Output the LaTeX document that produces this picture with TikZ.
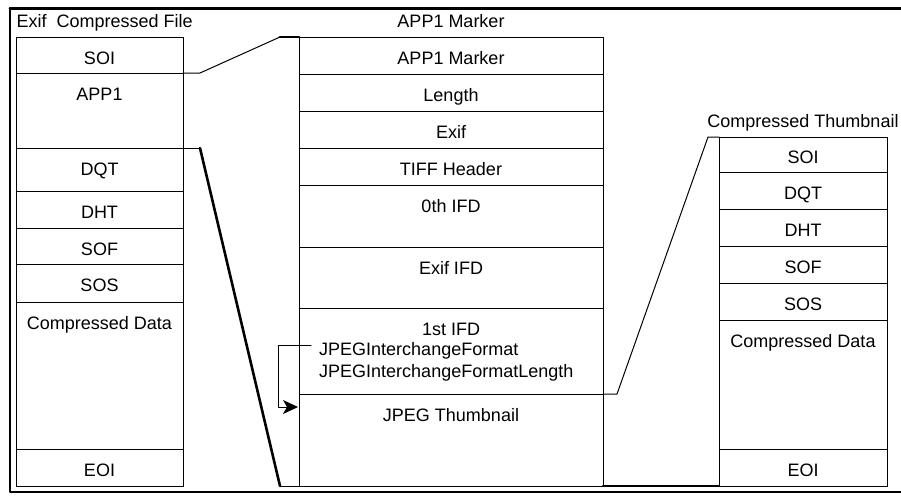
\documentclass[tikz,border=0pt]{standalone}
\usepackage{fontspec}
\setmainfont{Liberation Sans}
\usetikzlibrary{positioning,arrows.meta}
\begin{document}
\begin{tikzpicture}[x=1pt, y=-1pt, line cap=round, line join=round,
    font=\fontsize{18pt}{21pt}\selectfont,
    cell/.style={draw, line width=1pt, outer sep=0pt, inner sep=0pt,
      anchor=north, text height=18pt, text depth=0pt, minimum height=37pt},
    lcol/.style={cell, minimum width=167pt},
    mcol/.style={cell, minimum width=304pt},
    rcol/.style={cell, minimum width=168pt},
    tag/.style={inner sep=0pt, anchor=base west},
    link/.style={line width=1pt},
    heavy/.style={line width=2.6pt}]
  \useasboundingbox (0,0) rectangle (901,496);
  \draw[line width=3pt] (10,8)--(901,8);
  \draw[line width=2pt] (10,8)--(10,492)--(901,492);

  \node[anchor=base west] (ltitle) at (13,27) {Exif~ Compressed File};
  \node[lcol, minimum height=36pt] (lsoi) at (99.5,37) {SOI};
  \node[lcol, below=0pt of lsoi, minimum height=75pt, text depth=38pt] (lapp) {APP1};
  \node[lcol, below=0pt of lapp, minimum height=43pt, text depth=6pt] (ldqt) {DQT};
  \node[lcol, below=0pt of ldqt] (ldht) {DHT};
  \node[lcol, below=0pt of ldht, minimum height=36pt] (lsof) {SOF};
  \node[lcol, below=0pt of lsof, minimum height=38pt, text depth=1pt] (lsos) {SOS};
  \node[lcol, below=0pt of lsos, minimum height=147pt, text depth=110pt] (ldata) {Compressed Data};
  \node[lcol, below=0pt of ldata] (leoi) {EOI};

  \node[mcol] (mmark) at (451,37) {APP1 Marker};
  \node[anchor=base] (mtitle) at ([yshift=10pt]mmark.north) {APP1 Marker};
  \node[mcol, below=0pt of mmark] (mlen) {Length};
  \node[mcol, below=0pt of mlen] (mexif) {Exif};
  \node[mcol, below=0pt of mexif] (mtiff) {TIFF Header};
  \node[mcol, below=0pt of mtiff, minimum height=62pt, text depth=25pt] (mzero) {0th IFD};
  \node[mcol, below=0pt of mzero, minimum height=61pt, text depth=24pt] (mexififd) {Exif IFD};
  \node[mcol, below=0pt of mexififd, minimum height=86pt, text depth=49pt] (mfirst) {1st IFD};
  \node[mcol, below=0pt of mfirst, minimum height=92pt, text depth=55pt] (thumb) {JPEG Thumbnail};
  \node[tag] (jif) at (319,355) {JPEGInterchangeFormat};
  \node[tag] (jifl) at (319,377) {JPEGInterchangeFormatLength};

  \node[rcol, minimum height=35pt] (rsoi) at (803,137) {SOI};
  \node[anchor=base] (rtitle) at ([yshift=10pt]rsoi.north) {Compressed Thumbnail};
  \node[rcol, below=0pt of rsoi] (rdqt) {DQT};
  \node[rcol, below=0pt of rdqt] (rdht) {DHT};
  \node[rcol, below=0pt of rdht] (rsof) {SOF};
  \node[rcol, below=0pt of rsof] (rsos) {SOS};
  \node[rcol, below=0pt of rsos, minimum height=129pt, text depth=92pt] (rdata) {Compressed Data};
  \node[rcol, below=0pt of rdata] (reoi) {EOI};

  \draw[link] (lsoi.south east) -- ++(17,0) -- ([xshift=-19pt]mmark.north west);
  \draw[heavy] ([xshift=-19pt]mmark.north west) -- (mmark.north west);
  \draw[link] (ldqt.north east) -- ++(17,0);
  \draw[heavy] ([xshift=17pt]ldqt.north east) -- ([xshift=-19pt]thumb.south west);
  \draw[link] ([xshift=-19pt]thumb.south west) -- (thumb.south west);
  \draw[link] (thumb.north east) -- ++(14,0) -- ([xshift=-11pt]rsoi.north west) -- (rsoi.north west);
  \draw[heavy] (thumb.south east) -- (reoi.south west);
  \draw[link, -{Stealth[length=15pt, width=14pt, inset=4pt]}]
    ([xshift=-8pt, yshift=5pt]jif.west) -- ++(-33,0) |- ([xshift=-1pt, yshift=-13pt]thumb.north west);
\end{tikzpicture}
\end{document}
